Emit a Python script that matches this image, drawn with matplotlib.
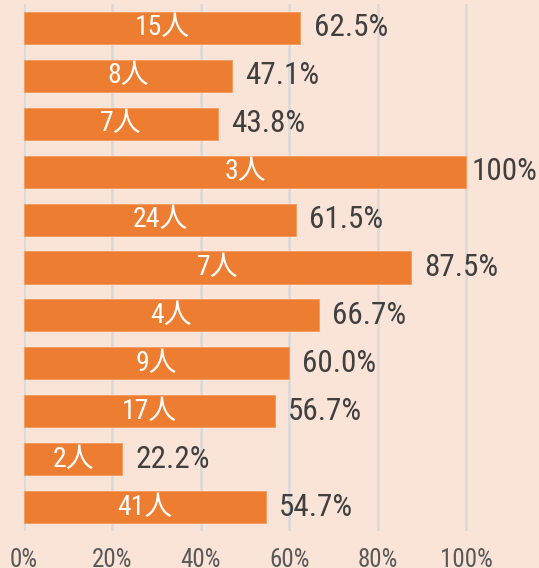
import numpy as np
import matplotlib.pyplot as plt
from matplotlib import font_manager

# Data
counts = [15, 8, 7, 3, 24, 7, 4, 9, 17, 2, 41]
pcts = [62.5, 47.1, 43.8, 100, 61.5, 87.5, 66.7, 60.0, 56.7, 22.2, 54.7]
xticks = [0, 20, 40, 60, 80, 100]

names = set(f.name for f in font_manager.fontManager.ttflist)
cands = ['Roboto Condensed', 'Liberation Sans Narrow', 'Roboto', 'Noto Sans CJK JP']
fam = [f for f in cands if f in names] + ['DejaVu Sans']

bg = '#fae4d7'
orange = '#ed7d31'

fig = plt.figure(figsize=(5.39, 5.68), dpi=100)
fig.patch.set_facecolor(bg)
ax = fig.add_axes([24 / 539, 1 - 531 / 568, 1 - 24 / 539, 527 / 568])
ax.set_facecolor(bg)

y = np.arange(len(pcts))
ax.barh(y, pcts, height=0.67, color=orange, edgecolor='#f39a5c', linewidth=0.6, zorder=2)

for yi, p, c in zip(y, pcts, counts):
    ax.text(p / 2, yi, '%d人' % c, ha='center', va='center', color='white',
            fontsize=20, family=fam, zorder=3)
    if p == 100:
        lab, off = '100%', 1.3   # pulled in so it fits, like the original
    else:
        lab, off = '%.1f%%' % p, 3
    ax.text(p + off, yi, lab, ha='left', va='center', color='#404040',
            fontsize=22.5, family=fam, zorder=3)

ax.set_xlim(0, 100 * (539 - 24) / 442)
ax.set_ylim(10.5, -0.5)
ax.set_xticks(xticks)
ax.set_xticklabels(['%d%%' % t for t in xticks], family=fam, fontsize=18, color='#595959')
ax.set_yticks([])
ax.tick_params(axis='x', length=0, pad=12)
ax.grid(axis='x', color='#d9d9d9', linewidth=1.8, zorder=0)
for s in ax.spines.values():
    s.set_visible(False)

fig.savefig('out.png', dpi=100, facecolor=bg)
